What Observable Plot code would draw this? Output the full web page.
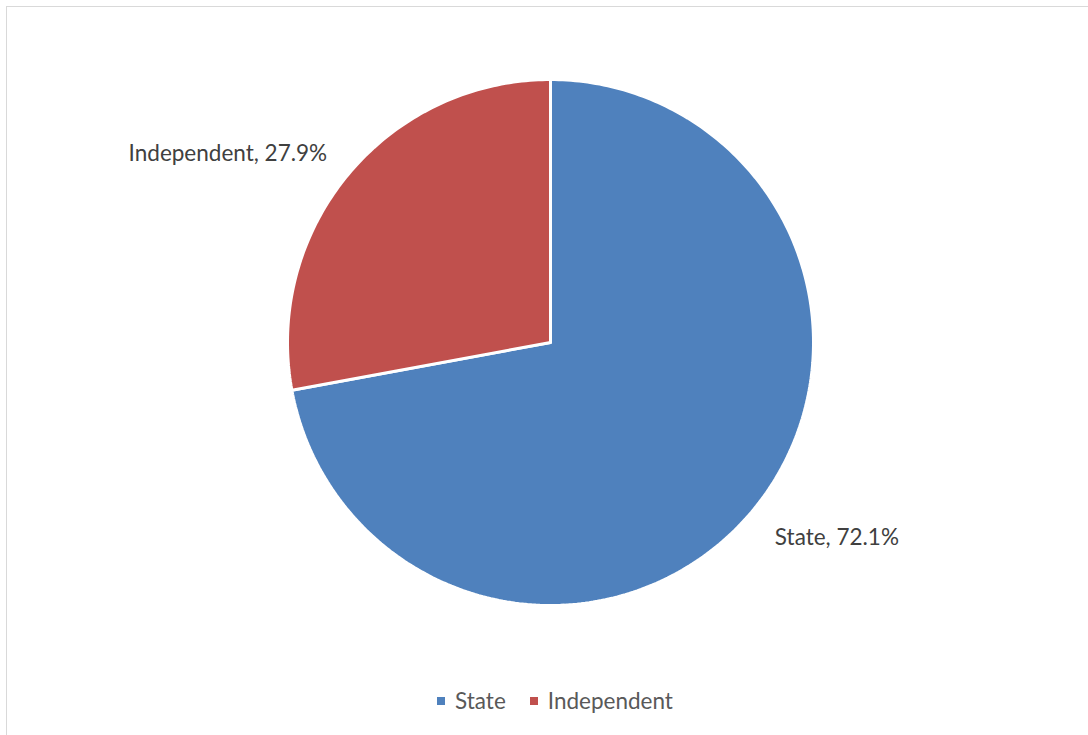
<!DOCTYPE html>
<html>
<head>
<meta charset="utf-8">
<script src="https://cdn.jsdelivr.net/npm/d3@7"></script>
<script src="https://cdn.jsdelivr.net/npm/@observablehq/plot@0.6"></script>
<style>
  html, body { margin: 0; padding: 0; background: #fff; }
  body { width: 1088px; height: 735px; position: relative; overflow: hidden; font-family: Lato, "Liberation Sans", sans-serif; }
  #frame { position: absolute; left: 6px; top: 6px; width: 1100px; height: 760px; border: 1.5px solid #d9d9d9; box-sizing: border-box; }
  #chart { position: absolute; left: 0; top: 0; }
  #legend { position: absolute; left: 11px; top: 687px; width: 1088px; display: flex; justify-content: center; font-size: 22.5px; color: #595959; }
  .item { display: flex; align-items: center; margin: 0 12px; }
  .sw { width: 8px; height: 8px; margin-right: 10px; display: inline-block; }
</style>
</head>
<body>
<div id="frame"></div>
<div id="chart"></div>
<div id="legend"></div>
<script>
const categories = ["State", "Independent"];
const shares = [72.1, 27.9];
const colors = ["#4F81BD", "#C0504D"];

// Build slice polygons from the shares (angles clockwise from 12 o'clock)
const total = d3.sum(shares);
const slices = [];
const labels = [];
let start = 0;
categories.forEach((cat, i) => {
  const a0 = start / total * 2 * Math.PI;
  const a1 = (start + shares[i]) / total * 2 * Math.PI;
  const n = Math.max(2, Math.ceil((a1 - a0) / (2 * Math.PI) * 400));
  slices.push({cat, x: 0, y: 0});
  for (let k = 0; k <= n; k++) {
    const a = a0 + (a1 - a0) * k / n;
    slices.push({cat, x: Math.sin(a), y: Math.cos(a)});
  }
  slices.push({cat, x: 0, y: 0});
  const am = (a0 + a1) / 2;
  labels.push({
    cat,
    text: `${cat}, ${shares[i].toFixed(1)}%`,
    x: 1.12 * Math.sin(am),
    y: 1.12 * Math.cos(am),
    anchor: Math.sin(am) < 0 ? "end" : "start"
  });
  start += shares[i];
});

const W = 1088, H = 680;
const plot = Plot.plot({
  width: W,
  height: H,
  marginLeft: 287,
  marginRight: W - 813,
  marginTop: 79,
  marginBottom: H - 605,
  x: {domain: [-1, 1], axis: null},
  y: {domain: [-1, 1], axis: null},
  color: {domain: categories, range: colors},
  style: {background: "transparent", fontFamily: "Lato, 'Liberation Sans', sans-serif"},
  marks: [
    Plot.line(slices, {x: "x", y: "y", z: "cat", fill: "cat", stroke: "white", strokeWidth: 3, strokeLinejoin: "miter", curve: "linear"}),
    Plot.text(labels.filter(d => d.anchor === "end"), {x: "x", y: "y", text: "text", textAnchor: "end", dx: 3, fontSize: 22.5, fill: "#404040"}),
    Plot.text(labels.filter(d => d.anchor === "start"), {x: "x", y: "y", text: "text", textAnchor: "start", dx: -2, dy: 7, fontSize: 22.5, fill: "#404040"})
  ]
});
document.getElementById("chart").appendChild(plot);

const legend = document.getElementById("legend");
categories.forEach((c, i) => {
  const it = document.createElement("span");
  it.className = "item";
  const sw = document.createElement("span");
  sw.className = "sw";
  sw.style.background = colors[i];
  it.appendChild(sw);
  it.appendChild(document.createTextNode(c));
  legend.appendChild(it);
});
</script>
</body>
</html>
